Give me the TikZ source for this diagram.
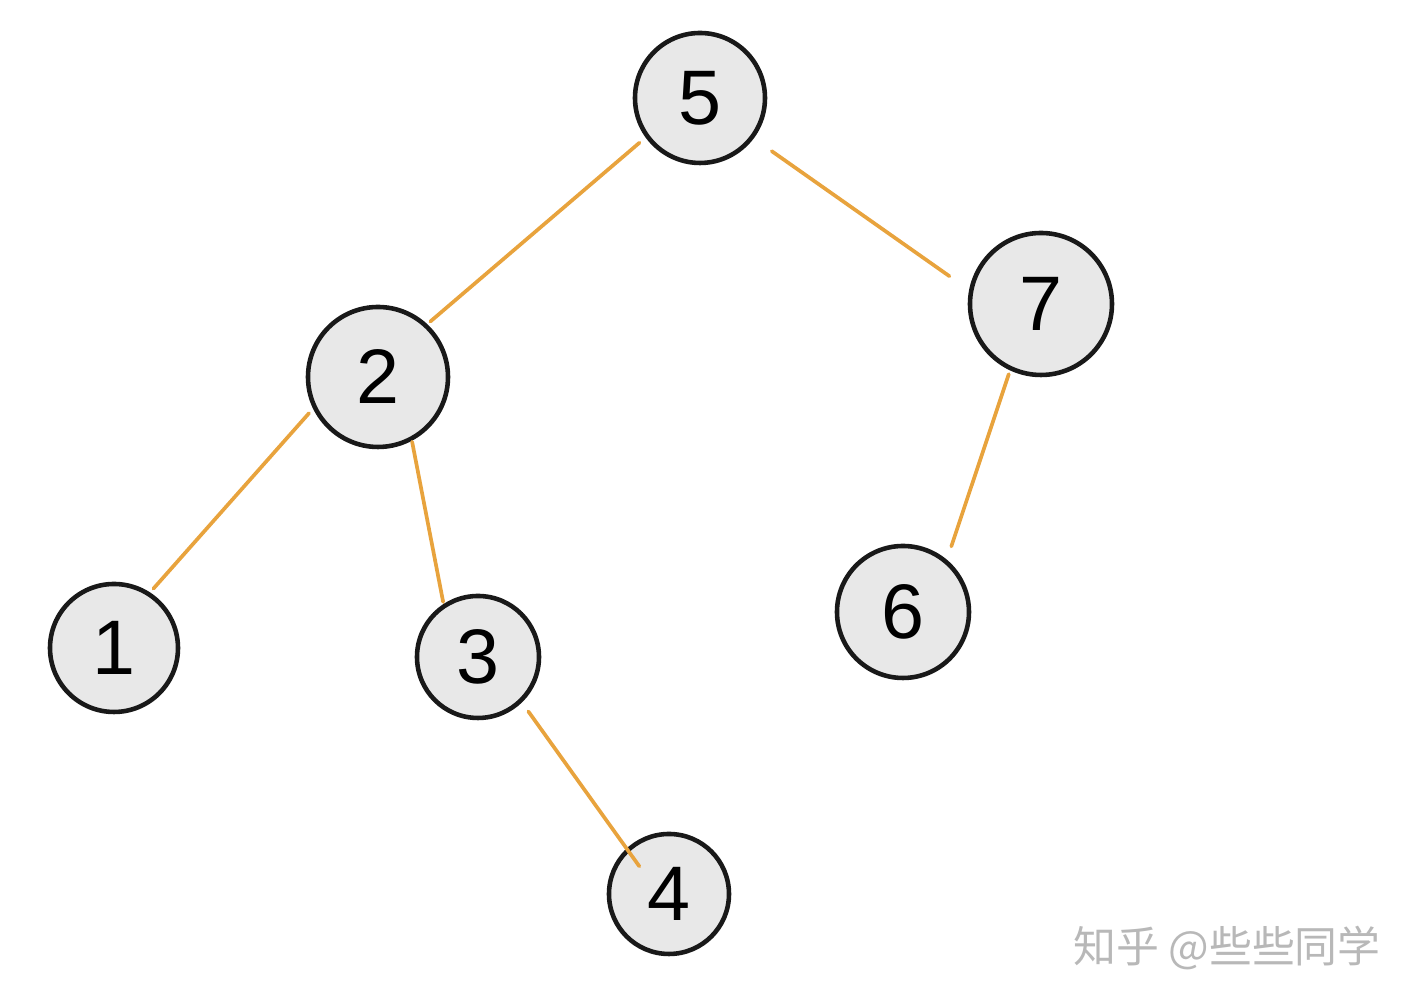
\documentclass[tikz,border=0pt]{standalone}
\usepackage{fontspec}
\usepackage{tikz}
\usetikzlibrary{positioning}
\newfontfamily\digitfont{Liberation Sans}
\newfontfamily\cjk{Noto Sans CJK SC}
\definecolor{edgeorange}{HTML}{E8A33D}
\definecolor{nodegray}{HTML}{E8E8E8}
\definecolor{markgray}{HTML}{B8B8B8}

\begin{document}
\begin{tikzpicture}[
    treenode/.style={circle, draw=black!90, fill=nodegray, line width=1.3pt,
                     inner sep=0pt, font=\digitfont\fontsize{22}{26}\selectfont},
    edge/.style={draw=edgeorange, line width=1.05pt, line cap=round},
    wmark/.style={text=markgray, font=\cjk\fontsize{12.2}{14}\selectfont}
]
\useasboundingbox (0,0) rectangle (14.16,10.05);

% Nodes of the tree
\node[treenode, minimum size=1.30cm] (n5) at (7.00, 9.07) {5};
\node[treenode, minimum size=1.40cm] (n2) at (3.78, 6.28) {2};
\node[treenode, minimum size=1.42cm] (n7) at (10.41, 7.01) {7};
\node[treenode, minimum size=1.28cm] (n1) at (1.14, 3.57) {1};
\node[treenode, minimum size=1.22cm] (n3) at (4.78, 3.48) {3};
\node[treenode, minimum size=1.32cm] (n6) at (9.03, 3.93) {6};
\node[treenode, minimum size=1.20cm] (n4) at (6.69, 1.11) {4};

% Edges (hand drawn, so the ends stop short of the circles)
\draw[edge, shorten <=0.08cm, shorten >=0.04cm] (n5.216) -- (n2.47);
\draw[edge, shorten <=0.22cm, shorten >=0.24cm] (n5.-37) -- (n7.169);
\draw[edge, shorten <=0.06cm, shorten >=0.05cm] (n2.206) -- (n1.57);
\draw[edge, shorten <=0.01cm, shorten >=0.02cm] (n2.-62) -- (n3.123);
\draw[edge, shorten <=0.04cm, shorten >=0.14cm] (n7.245) -- (n6.50);
\draw[edge, shorten <=0.11cm, shorten >=-0.22cm] (n3.-46) -- (n4.133);

% Watermark
\node[wmark] (wm) at (12.27, 0.57) {知乎 @些些同学};

\end{tikzpicture}
\end{document}
